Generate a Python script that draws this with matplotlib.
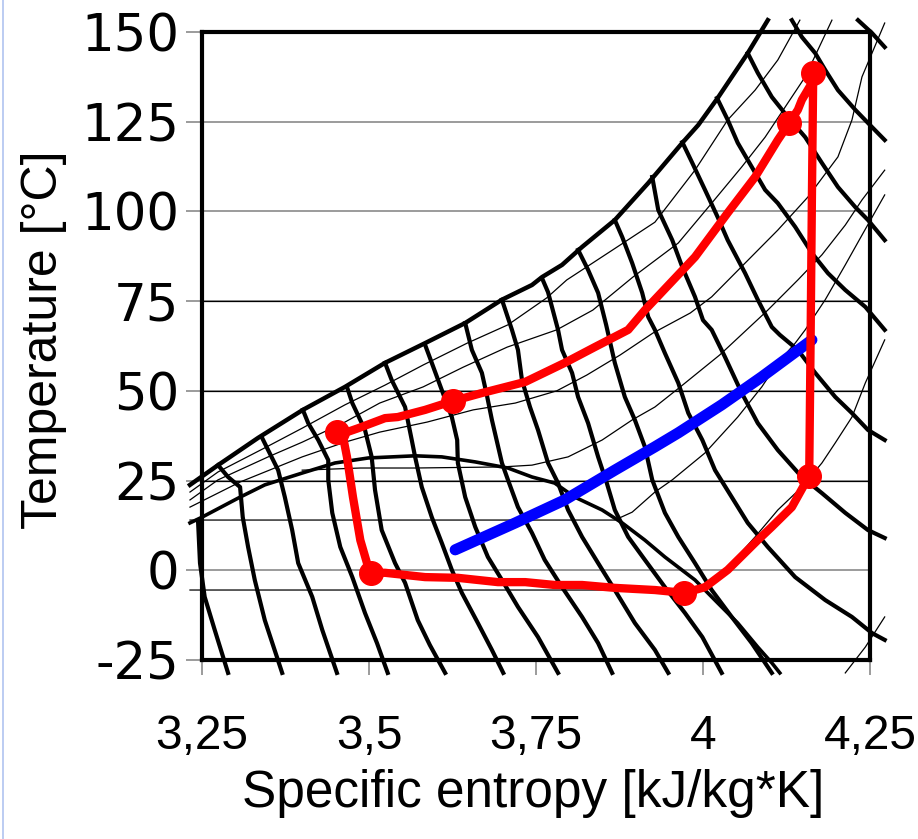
import matplotlib
matplotlib.use('Agg')
import matplotlib.pyplot as plt
from matplotlib.lines import Line2D

# ---- data (entropy s [kJ/kgK], temperature T [C]) ----
cycle_s = [4.165, 4.163, 4.161, 4.159, 4.133, 4.103, 4.082, 4.037, 4.003, 3.972,
           3.928, 3.868, 3.819, 3.778, 3.734, 3.693, 3.633, 3.584, 3.524, 3.503,
           3.497, 3.487, 3.476, 3.467, 3.460, 3.452, 3.464, 3.484, 3.524, 3.543,
           3.584, 3.626, 3.669, 3.734, 3.793, 3.838, 3.888, 3.913, 3.988, 4.037,
           4.078, 4.112, 4.129, 4.142, 4.148, 4.163, 4.165]
cycle_T = [138.6, 103.2, 62.8, 26.3, 17.6, 12.1, 8.4, 0.1, -4.7, -6.3,
           -5.5, -4.9, -4.1, -4.1, -3.3, -3.3, -2.1, -1.9, -0.7, -0.7,
           2.0, 8.4, 20.4, 31.6, 38.3, 38.5, 38.3, 39.6, 42.4, 42.7,
           44.7, 47.2, 49.4, 52.5, 57.8, 62.2, 67.0, 72.5, 87.3, 99.6,
           109.6, 119.9, 124.6, 128.3, 131.1, 135.8, 138.6]
state_s = [4.165, 4.129, 3.626, 3.452, 3.503, 3.972, 4.159]
state_T = [138.6, 124.6, 47.2, 38.5, -0.7, -6.3, 26.3]

water_s = [3.629, 3.719, 3.793, 3.868, 3.928, 3.963, 4.028, 4.088, 4.163]
water_T = [5.7, 13.2, 19.6, 27.9, 34.4, 38.3, 46.1, 53.9, 64.2]

dome_s = [3.232, 3.250, 3.304, 3.344, 3.400, 3.449, 3.499, 3.569, 3.609, 3.659,
          3.708, 3.744, 3.778, 3.808, 3.849, 3.879, 3.913, 3.943, 3.988, 4.022,
          4.052, 4.082, 4.103, 4.115]
dome_T = [13.2, 14.8, 20.1, 23.8, 27.1, 29.9, 31.3, 31.9, 31.6, 30.2,
          28.5, 26.0, 24.3, 20.4, 16.8, 13.2, 8.4, 3.7, -2.7, -9.1,
          -14.7, -21.4, -25.8, -28.6]

pmax_s = [3.232, 3.274, 3.334, 3.401, 3.464, 3.524, 3.584, 3.644, 3.699, 3.744,
          3.759, 3.789, 3.819, 3.868, 3.918, 3.969, 3.993, 4.022, 4.067, 4.097]
pmax_T = [23.8, 29.3, 36.9, 44.7, 51.1, 57.8, 63.3, 68.9, 75.4, 79.5,
          81.7, 85.1, 90.1, 97.6, 107.9, 119.1, 124.1, 131.6, 144.1, 153.3]

# thick isenthalps
isenthalps = [
    ([3.244, 3.247, 3.254, 3.269, 3.289], [14.0, 2.0, -7.4, -16.6, -28.6]),
    ([3.274, 3.289, 3.307, 3.311, 3.319, 3.329, 3.344, 3.370],
     [29.3, 26.0, 23.2, 14.8, 6.5, -2.7, -13.9, -28.6]),
    ([3.340, 3.349, 3.364, 3.374, 3.385, 3.394, 3.415, 3.430, 3.452],
     [36.9, 33.5, 27.9, 20.4, 11.2, 2.0, -7.4, -16.6, -28.6]),
    ([3.401, 3.409, 3.424, 3.439, 3.439, 3.445, 3.457, 3.475, 3.494, 3.512, 3.528],
     [44.7, 41.0, 36.3, 30.7, 25.2, 16.0, 6.5, -1.9, -11.9, -20.3, -28.6]),
    ([3.467, 3.475, 3.494, 3.504, 3.509, 3.519, 3.539, 3.554, 3.573, 3.591, 3.614],
     [51.1, 46.6, 39.1, 31.6, 22.4, 11.2, 2.0, -3.5, -13.9, -20.8, -28.6]),
    ([3.524, 3.534, 3.554, 3.564, 3.569, 3.579, 3.594, 3.609, 3.624, 3.639, 3.663, 3.684, 3.701],
     [57.8, 53.0, 45.5, 36.3, 31.6, 23.2, 14.8, 7.6, 0.1, -6.3, -14.7, -22.2, -28.6]),
    ([3.584, 3.594, 3.609, 3.624, 3.632, 3.633, 3.644, 3.659, 3.678, 3.699, 3.723, 3.753, 3.783],
     [62.8, 57.8, 50.2, 42.7, 36.3, 29.9, 20.4, 12.1, 3.7, -2.7, -10.2, -18.6, -28.6]),
    ([3.644, 3.654, 3.669, 3.677, 3.684, 3.699, 3.708, 3.723, 3.744, 3.763, 3.789, 3.819, 3.843, 3.864],
     [68.9, 61.4, 55.0, 48.3, 41.9, 29.9, 25.2, 17.6, 10.4, 2.9, -4.7, -13.0, -20.3, -28.6]),
    ([3.699, 3.714, 3.723, 3.729, 3.741, 3.753, 3.768, 3.783, 3.798, 3.819, 3.843, 3.868, 3.898, 3.928, 3.948],
     [75.4, 67.0, 61.4, 53.0, 45.5, 39.1, 29.9, 24.3, 16.8, 9.3, 2.0, -5.5, -14.7, -22.2, -28.6]),
    ([3.759, 3.768, 3.783, 3.789, 3.804, 3.813, 3.828, 3.843, 3.856, 3.868, 3.888, 3.913, 3.943, 3.973, 3.999, 4.028],
     [81.4, 77.5, 67.0, 61.4, 55.0, 48.3, 41.0, 31.6, 24.3, 16.8, 9.3, 2.9, -4.7, -11.9, -18.6, -28.6]),
    ([3.813, 3.828, 3.843, 3.855, 3.868, 3.883, 3.898, 3.913, 3.924, 3.943, 3.963, 3.988, 4.013, 4.043, 4.073, 4.103],
     [89.3, 83.7, 77.3, 68.4, 57.8, 48.3, 41.9, 34.4, 25.2, 16.0, 9.3, 2.0, -5.5, -13.0, -20.3, -28.6]),
    ([3.868, 3.879, 3.894, 3.909, 3.918, 3.928, 3.943, 3.963, 3.978, 3.999, 4.018, 4.043, 4.067, 4.097,
      4.138, 4.183, 4.223, 4.253, 4.272],
     [97.6, 92.9, 85.6, 77.3, 70.6, 67.0, 60.5, 52.2, 43.8, 36.3, 27.9, 20.4, 13.2, 6.5,
      -1.9, -8.3, -13.0, -17.5, -19.4]),
    ([3.924, 3.933, 3.954, 3.969, 3.988, 4.000, 4.013, 4.033, 4.058, 4.082, 4.112, 4.148, 4.178, 4.213, 4.247, 4.272],
     [109.6, 100.4, 92.0, 84.5, 76.2, 69.7, 67.0, 59.4, 49.4, 41.0, 33.5, 26.0, 21.5, 16.0, 11.2, 9.0]),
    ([3.969, 3.984, 4.003, 4.022, 4.037, 4.063, 4.082, 4.103, 4.115, 4.142, 4.168, 4.198, 4.223, 4.247, 4.272],
     [119.3, 113.5, 106.0, 98.4, 92.0, 82.8, 75.4, 67.8, 65.6, 61.4, 55.0, 48.3, 43.8, 39.1, 36.3]),
    ([4.021, 4.037, 4.052, 4.073, 4.093, 4.112, 4.138, 4.163, 4.187, 4.213, 4.243, 4.272],
     [131.6, 125.5, 119.1, 112.4, 106.0, 102.3, 95.7, 88.4, 82.8, 78.1, 73.4, 67.0]),
    ([4.067, 4.082, 4.103, 4.127, 4.153, 4.178, 4.202, 4.228, 4.247, 4.272],
     [144.1, 138.6, 131.9, 126.3, 120.7, 113.5, 106.8, 101.2, 97.6, 92.0]),
    ([4.133, 4.148, 4.168, 4.183, 4.202, 4.228, 4.253, 4.272],
     [153.3, 148.6, 144.1, 139.4, 133.8, 128.3, 123.5, 119.9]),
    ([4.232, 4.253, 4.272], [153.3, 149.7, 145.8]),
]

# thin isobars
isobars = [
    ([3.232, 3.274, 3.349, 3.400, 3.464, 3.524, 3.581, 3.647, 3.708, 3.766, 3.796, 3.865, 3.928,
      3.988, 4.037, 4.078, 4.112, 4.145],
     [21.8, 27.4, 34.6, 39.6, 46.1, 51.6, 57.2, 63.3, 68.4, 75.9, 80.9, 89.3, 97.0,
      111.5, 125.5, 133.8, 142.2, 153.3]),
    ([3.232, 3.274, 3.349, 3.400, 3.464, 3.516, 3.581, 3.641, 3.707, 3.781, 3.835, 3.895, 3.963,
      4.013, 4.058, 4.093, 4.123, 4.153, 4.193],
     [19.6, 25.2, 31.6, 35.7, 41.3, 46.6, 51.1, 56.6, 62.2, 67.0, 72.5, 81.7, 91.2,
      102.3, 112.4, 120.7, 129.1, 137.5, 153.3]),
    ([3.232, 3.307, 3.400, 3.464, 3.516, 3.587, 3.656, 3.719, 3.781, 3.826, 3.876, 3.925, 3.981,
      4.013, 4.063, 4.112, 4.157, 4.202, 4.223, 4.238, 4.272],
     [17.6, 24.6, 31.6, 35.7, 38.5, 41.3, 44.7, 46.6, 50.0, 54.4, 60.0, 66.1, 71.7,
      76.2, 85.6, 94.8, 104.0, 115.2, 125.5, 137.5, 152.5]),
    ([3.400, 3.487, 3.569, 3.699, 3.744, 3.798, 3.849, 3.894, 3.928, 3.966, 4.025, 4.097,
      4.142, 4.178, 4.213, 4.238, 4.272],
     [27.9, 28.5, 28.5, 28.8, 29.3, 31.6, 36.3, 41.9, 45.5, 51.1, 60.0, 72.5,
      80.9, 87.9, 96.2, 103.2, 111.5]),
    ([3.232, 3.868, 3.894, 3.928, 3.954, 4.003, 4.052, 4.088, 4.112, 4.138, 4.153, 4.183,
      4.213, 4.238, 4.272],
     [14.0, 14.0, 16.2, 21.8, 25.2, 32.7, 42.7, 51.1, 57.8, 63.3, 67.0, 75.4,
      85.1, 93.4, 104.6]),
    ([3.232, 4.003, 4.013, 4.043, 4.078, 4.112, 4.148, 4.178, 4.198, 4.223, 4.243, 4.272],
     [-5.5, -5.5, -2.7, 2.0, 9.3, 16.8, 23.2, 29.9, 35.5, 42.7, 52.2, 64.2]),
    ([4.213, 4.243, 4.272], [-28.6, -21.4, -13.0]),
]

x_ticks = [3.25, 3.5, 3.75, 4.0, 4.25]
x_labels = ['3,25', '3,5', '3,75', '4', '4,25']
y_ticks = [-25, 0, 25, 50, 75, 100, 125, 150]
dark_grid = [25, 50, 75]

fig = plt.figure(figsize=(9.18, 8.39), dpi=100)
ax = fig.add_axes([202 / 918, 179 / 839, 668 / 918, 628 / 839])
ax.set_xlim(3.25, 4.25)
ax.set_ylim(-25, 150)

# grid
for y in y_ticks:
    ax.axhline(y, color='#808080', lw=1.1, zorder=1)
for y in dark_grid:
    ax.axhline(y, color='black', lw=0.9, zorder=1.5)

# diagram background lines
for s, T in isobars:
    ax.plot(s, T, color='black', lw=0.9, zorder=2, clip_on=False)
for s, T in isenthalps:
    ax.plot(s, T, color='black', lw=3.0, zorder=3, clip_on=False, solid_joinstyle='round')
ax.plot(dome_s, dome_T, color='black', lw=2.6, zorder=3, clip_on=False)
ax.plot(pmax_s, pmax_T, color='black', lw=3.2, zorder=3, clip_on=False)

# water line and cycle
ax.plot(water_s, water_T, color='#0000ff', lw=8, solid_capstyle='round', zorder=5)
ax.plot(cycle_s, cycle_T, color='#ff0000', lw=6, solid_joinstyle='round', zorder=6, clip_on=False)
ax.plot(state_s, state_T, 'o', color='#ff0000', ms=17, zorder=7, clip_on=False)

for side in ['left', 'right', 'top', 'bottom']:
    ax.spines[side].set_linewidth(3.0)
    ax.spines[side].set_zorder(8)

ax.set_xticks(x_ticks)
ax.set_xticklabels(x_labels, fontsize=34.5, family='Liberation Sans')
ax.set_yticks(y_ticks)
ax.set_yticklabels([str(v) for v in y_ticks], fontsize=37, family='DejaVu Sans')
ax.tick_params(axis='x', length=11, width=1.1, color='#808080', pad=28)
ax.tick_params(axis='y', length=11.5, width=1.1, color='#808080', pad=5)

fig.text(533 / 918, 1 - 793 / 839, 'Specific entropy [kJ/kg*K]', fontsize=37,
         family='Liberation Sans', ha='center', va='center')
fig.text(44 / 918, 1 - 340 / 839, 'Temperature [°C]', fontsize=36,
         family='Liberation Sans', ha='center', va='center', rotation=90)

fig.add_artist(Line2D([3 / 918, 3 / 918], [0, 1], color='#b0c4f0', lw=1.2))

plt.savefig('out.png', dpi=100)
